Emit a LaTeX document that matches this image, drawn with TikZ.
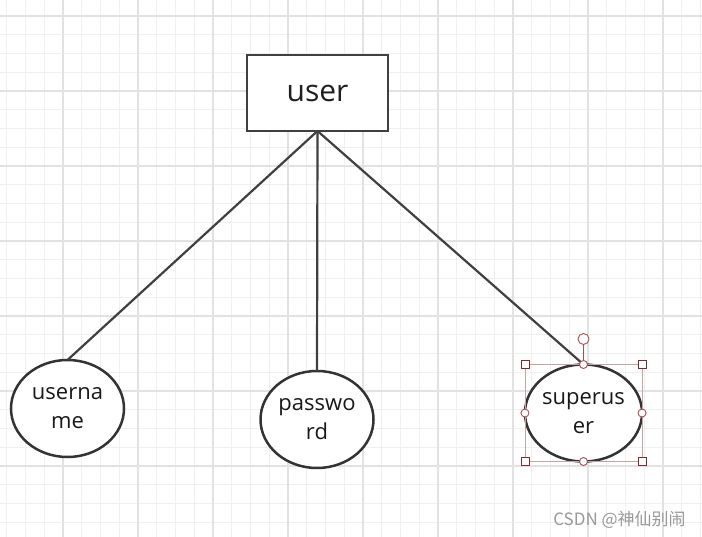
\documentclass[tikz,border=0pt]{standalone}
\usepackage{fontspec}
\setmainfont{Open Sans}
\newfontfamily\cjkfont{Noto Sans CJK SC}
\usetikzlibrary{shapes.geometric}
\definecolor{edgegray}{HTML}{404040}
\definecolor{gridminor}{HTML}{F0F0F0}
\definecolor{gridmajor}{HTML}{E2E2E2}
\definecolor{selline}{HTML}{C9A3A3}
\definecolor{seldark}{HTML}{7B2D2D}
\definecolor{selround}{HTML}{A85050}
\tikzset{
	entity/.style={draw=edgegray, line width=2.2pt, fill=white, minimum width=141pt, minimum height=76pt, inner sep=0pt, outer sep=0pt, font=\fontsize{30}{30}\selectfont, text=black!88},
	attrib/.style={draw=black!80, ellipse, line width=2.5pt, fill=white, minimum width=113pt, minimum height=97pt, inner sep=0pt, outer sep=0pt, align=center, font=\fontsize{22}{29}\selectfont, text=black!90},
	link/.style={edgegray, line width=2.2pt},
	sqhandle/.style={draw=seldark, fill=white, line width=0.9pt, minimum size=8pt, inner sep=0pt},
	rdhandle/.style={draw=selround, fill=white, circle, line width=0.9pt, minimum size=8pt, inner sep=0pt}
}
\begin{document}
\begin{tikzpicture}[x=1pt, y=-1pt]
	\useasboundingbox (0,0) rectangle (702,537);
	% grid background
	\fill[white] (0,0) rectangle (702,537);
	\foreach \i in {-3,...,35} {
		\draw[gridminor, line width=1.2pt] ({63+18.75*\i},0) -- ({63+18.75*\i},537);
		\draw[gridminor, line width=1.2pt] (0,{16+18.75*\i}) -- (702,{16+18.75*\i});
	}
	\foreach \i in {-1,...,8} {
		\draw[gridmajor, line width=1.2pt] ({63+75*\i},0) -- ({63+75*\i},537);
		\draw[gridmajor, line width=1.2pt] (0,{16+75*\i}) -- (702,{16+75*\i});
	}
	% entity and its attributes
	\node[entity] (user) at (317.5,93) {user};
	\node[attrib] (uname) at (67.5,408.5) {userna\\me};
	\node[attrib] (pwd) at (317,419.5) {passwo\\rd};
	\node[attrib] (super) at (583.5,413) {superus\\er};
	\foreach \a in {uname,pwd,super} {
		\draw[link] (user.south) -- (\a.north);
	}
	% selection handles
	\coordinate (selnw) at (super.west |- super.north);
	\coordinate (selne) at (super.east |- super.north);
	\coordinate (selsw) at (super.west |- super.south);
	\coordinate (selse) at (super.east |- super.south);
	\draw[selline, line width=0.9pt] (selnw) rectangle (selse);
	\coordinate (rot) at (583.5,339);
	\draw[selround, line width=1.2pt] (super.north) -- (rot);
	\node[rdhandle, minimum size=11pt] (roth) at (rot) {};
	\foreach \c in {selnw,selne,selsw,selse} {
		\node[sqhandle] at (\c) {};
	}
	\foreach \c in {north,south,west,east} {
		\node[rdhandle] at (super.\c) {};
	}
	\node[text=black!40, font=\cjkfont\fontsize{17}{17}\selectfont] (mark) at (619.5,520) {CSDN @神仙别闹};
\end{tikzpicture}
\end{document}
